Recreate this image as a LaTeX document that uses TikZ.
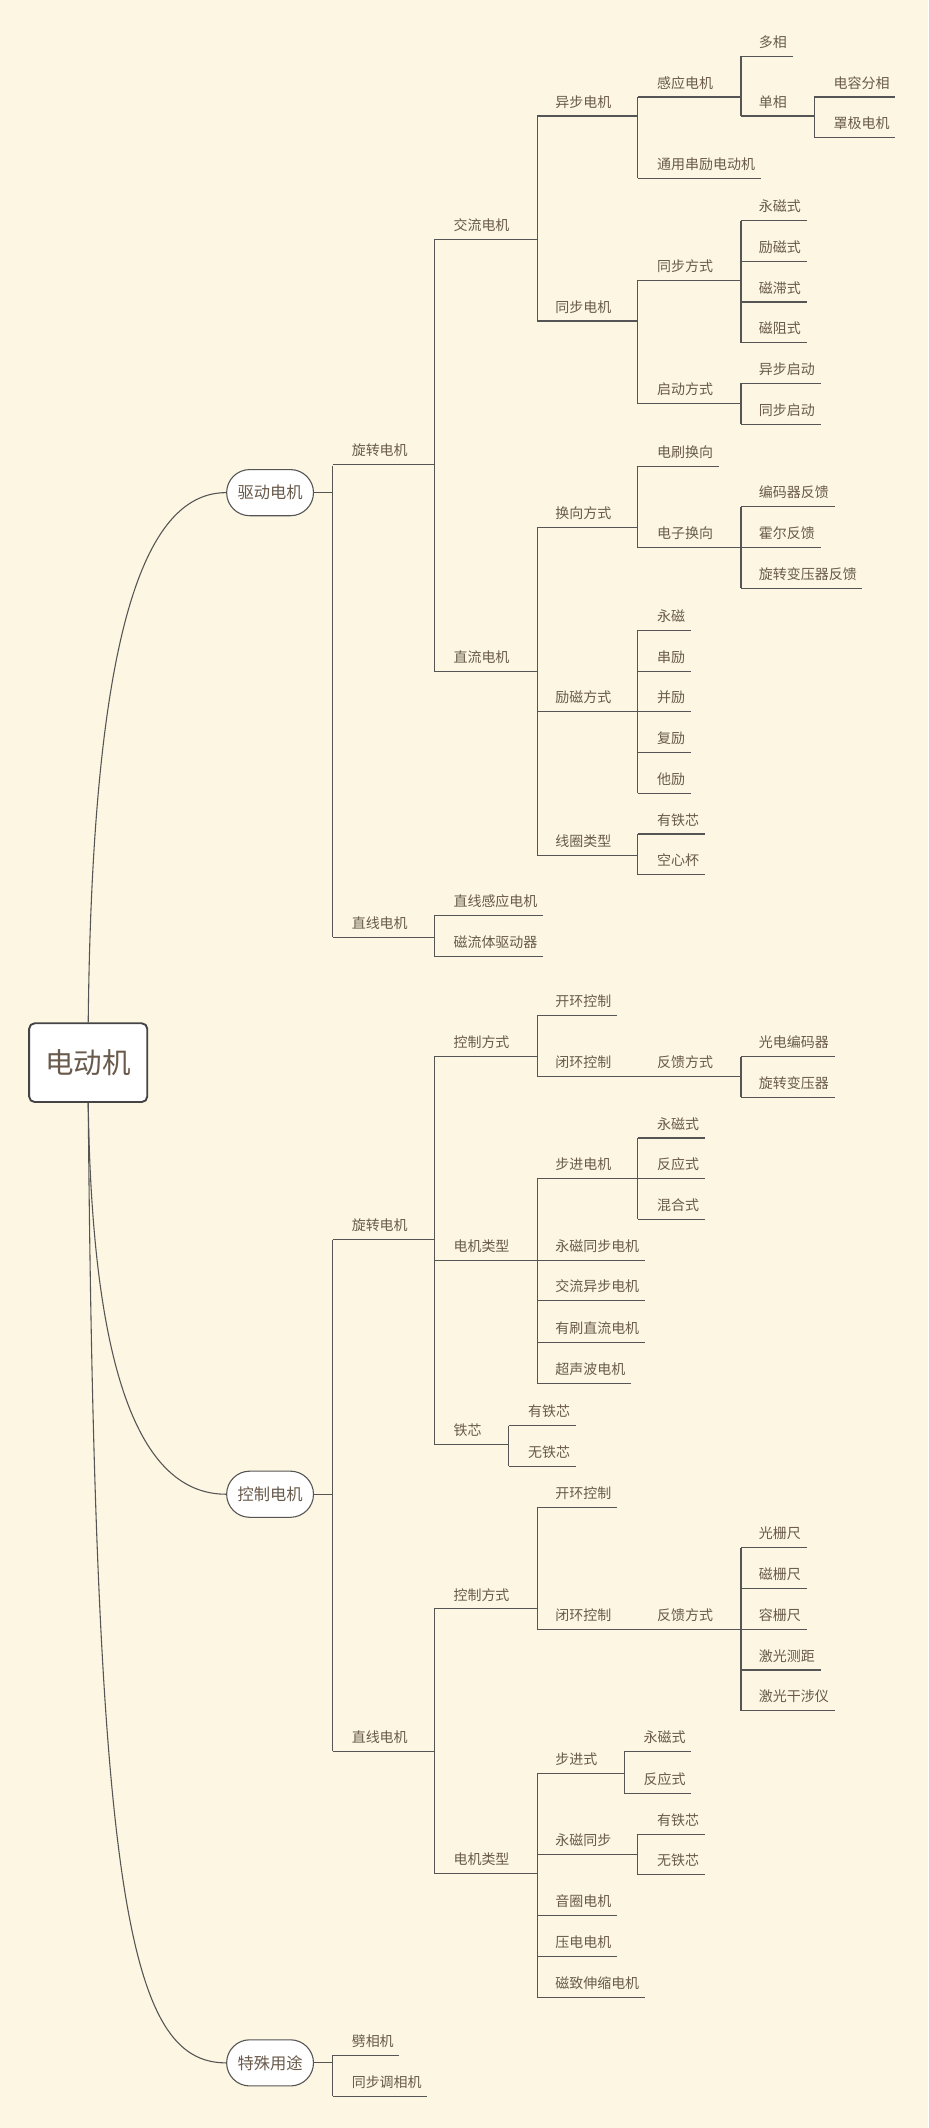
\documentclass[tikz,border=0pt]{standalone}
\usepackage{fontspec}
\setmainfont{Noto Sans CJK SC}
\usetikzlibrary{calc}
\definecolor{bgc}{RGB}{253,246,226}
\definecolor{lnc}{RGB}{85,85,85}
\definecolor{txc}{RGB}{105,90,75}
\tikzset{
 lbl/.style={inner sep=0pt,text=txc,font=\fontsize{10.3}{12}\selectfont},
 ln/.style={draw=lnc,line width=0.8pt},
 oval/.style={draw=lnc,line width=0.8pt,fill=white,rounded corners=17pt,minimum width=64pt,minimum height=34pt,inner sep=0pt,text=txc,font=\fontsize{12}{14}\selectfont},
 rootbox/.style={draw=lnc!80!black,line width=1.4pt,fill=white,rounded corners=4pt,minimum width=87pt,minimum height=58pt,inner sep=0pt,text=txc,font=\fontsize{21}{24}\selectfont}
}
\newcommand\lf[5]{%
 \node[lbl,anchor=west] (#1) at (#3,-#4) {#5};
 \draw[ln] ($(#1.west)+({#2-#3},-10.5)$) -- ($(#1.east)+(4,-10.5)$);}
\newcommand\pl[2]{%
 \coordinate (bx) at (#2,0);
 \coordinate (tmp) at ($(#1.west)+(0,-10.5)$);
 \draw[ln] (tmp) -- (tmp -| bx);}
\newcommand\vbar[4]{\draw[ln] (#1,-#2) -- (#1,-#3); \pl{#4}{#1}}
\begin{document}
\begin{tikzpicture}[x=1pt,y=1pt]
\fill[bgc] (0,0) rectangle (684,-1568);
\useasboundingbox (0,0) rectangle (684,-1568);
\node[rootbox] (root) at (65,-783) {电动机};
\node[oval] (d) at (199,-363) {驱动电机};
\node[oval] (k) at (199,-1101) {控制电机};
\node[oval] (t) at (199,-1520) {特殊用途};
\draw[ln] (root.north) .. controls (68,-470) and (105,-363) .. (d.west);
\draw[ln] (root.south) .. controls (68,-1030) and (110,-1101) .. (k.west);
\draw[ln] (root.south) .. controls (70,-1400) and (95,-1520) .. (t.west);
\draw[ln] (d.east) -- (245,-363);
\draw[ln] (k.east) -- (245,-1101);
\draw[ln] (t.east) -- (245,-1520);
% 驱动电机
\draw[ln] (245,-343) -- (245,-690.5);
\lf{a1}{245}{259}{332}{旋转电机}
\lf{a2}{245}{259}{680}{直线电机}
\lf{b1}{320}{334}{166}{交流电机}
\lf{b2}{320}{334}{484}{直流电机}
\vbar{320}{176.5}{494.5}{a1}
\lf{c1}{396}{409}{75}{异步电机}
\lf{c2}{396}{409}{226}{同步电机}
\vbar{396}{85.5}{236.5}{b1}
\lf{e1}{470}{484}{61}{感应电机}
\lf{e2}{470}{484}{121}{通用串励电动机}
\vbar{470}{71.5}{131.5}{c1}
\lf{f1}{546}{559}{31}{多相}
\lf{f2}{546}{559}{75}{单相}
\vbar{546}{41.5}{85.5}{e1}
\lf{g1}{600}{614}{61}{电容分相}
\lf{g2}{600}{614}{91}{罩极电机}
\vbar{600}{71.5}{101.5}{f2}
\lf{h1}{470}{484}{196}{同步方式}
\lf{h2}{470}{484}{287}{启动方式}
\vbar{470}{206.5}{297.5}{c2}
\lf{i1}{546}{559}{152}{永磁式}
\lf{i2}{546}{559}{182}{励磁式}
\lf{i3}{546}{559}{212}{磁滞式}
\lf{i4}{546}{559}{242}{磁阻式}
\vbar{546}{162.5}{252.5}{h1}
\lf{j1}{546}{559}{272}{异步启动}
\lf{j2}{546}{559}{302}{同步启动}
\vbar{546}{282.5}{312.5}{h2}
\lf{k1}{396}{409}{378}{换向方式}
\lf{k2}{396}{409}{514}{励磁方式}
\lf{k3}{396}{409}{620}{线圈类型}
\vbar{396}{388.5}{630.5}{b2}
\lf{l1}{470}{484}{333}{电刷换向}
\lf{l2}{470}{484}{393}{电子换向}
\vbar{470}{343.5}{403.5}{k1}
\lf{m1}{546}{559}{363}{编码器反馈}
\lf{m2}{546}{559}{393}{霍尔反馈}
\lf{m3}{546}{559}{423}{旋转变压器反馈}
\vbar{546}{373.5}{433.5}{l2}
\lf{n1}{470}{484}{454}{永磁}
\lf{n2}{470}{484}{484}{串励}
\lf{n3}{470}{484}{514}{并励}
\lf{n4}{470}{484}{544}{复励}
\lf{n5}{470}{484}{574}{他励}
\vbar{470}{464.5}{584.5}{k2}
\lf{o1}{470}{484}{604}{有铁芯}
\lf{o2}{470}{484}{634}{空心杯}
\vbar{470}{614.5}{644.5}{k3}
\lf{p1}{320}{334}{664}{直线感应电机}
\lf{p2}{320}{334}{694}{磁流体驱动器}
\vbar{320}{674.5}{704.5}{a2}
% 控制电机
\draw[ln] (245,-913.5) -- (245,-1290.5);
\lf{q1}{245}{259}{903}{旋转电机}
\lf{q2}{245}{259}{1280}{直线电机}
\lf{r1}{320}{334}{768}{控制方式}
\lf{r2}{320}{334}{918}{电机类型}
\lf{r3}{320}{334}{1054}{铁芯}
\vbar{320}{778.5}{1064.5}{q1}
\lf{s1}{396}{409}{738}{开环控制}
\lf{s2}{396}{409}{783}{闭环控制}
\vbar{396}{748.5}{793.5}{r1}
\lf{s3}{470}{484}{783}{反馈方式}
\pl{s2}{470}
\lf{u1}{546}{559}{768}{光电编码器}
\lf{u2}{546}{559}{798}{旋转变压器}
\vbar{546}{778.5}{808.5}{s3}
\lf{v1}{396}{409}{858}{步进电机}
\lf{v2}{396}{409}{918}{永磁同步电机}
\lf{v3}{396}{409}{948}{交流异步电机}
\lf{v4}{396}{409}{979}{有刷直流电机}
\lf{v5}{396}{409}{1009}{超声波电机}
\vbar{396}{868.5}{1019.5}{r2}
\lf{w1}{470}{484}{828}{永磁式}
\lf{w2}{470}{484}{858}{反应式}
\lf{w3}{470}{484}{888}{混合式}
\vbar{470}{838.5}{898.5}{v1}
\lf{x1}{375}{389}{1040}{有铁芯}
\lf{x2}{375}{389}{1070}{无铁芯}
\vbar{375}{1050.5}{1080.5}{r3}
\lf{y1}{320}{334}{1175}{控制方式}
\lf{y2}{320}{334}{1370}{电机类型}
\vbar{320}{1185.5}{1380.5}{q2}
\lf{z1}{396}{409}{1100}{开环控制}
\lf{z2}{396}{409}{1190}{闭环控制}
\vbar{396}{1110.5}{1200.5}{y1}
\lf{z3}{470}{484}{1190}{反馈方式}
\pl{z2}{470}
\lf{aa1}{546}{559}{1130}{光栅尺}
\lf{aa2}{546}{559}{1160}{磁栅尺}
\lf{aa3}{546}{559}{1190}{容栅尺}
\lf{aa4}{546}{559}{1220}{激光测距}
\lf{aa5}{546}{559}{1250}{激光干涉仪}
\vbar{546}{1140.5}{1260.5}{z3}
\lf{bb1}{396}{409}{1296}{步进式}
\lf{bb2}{396}{409}{1356}{永磁同步}
\lf{bb3}{396}{409}{1401}{音圈电机}
\lf{bb4}{396}{409}{1431}{压电电机}
\lf{bb5}{396}{409}{1461}{磁致伸缩电机}
\vbar{396}{1306.5}{1471.5}{y2}
\lf{cc1}{460}{474}{1280}{永磁式}
\lf{cc2}{460}{474}{1311}{反应式}
\vbar{460}{1290.5}{1321.5}{bb1}
\lf{dd1}{470}{484}{1341}{有铁芯}
\lf{dd2}{470}{484}{1371}{无铁芯}
\vbar{470}{1351.5}{1381.5}{bb2}
% 特殊用途
\draw[ln] (245,-1514.5) -- (245,-1544.5);
\lf{ee1}{245}{259}{1504}{劈相机}
\lf{ee2}{245}{259}{1534}{同步调相机}
\end{tikzpicture}
\end{document}
